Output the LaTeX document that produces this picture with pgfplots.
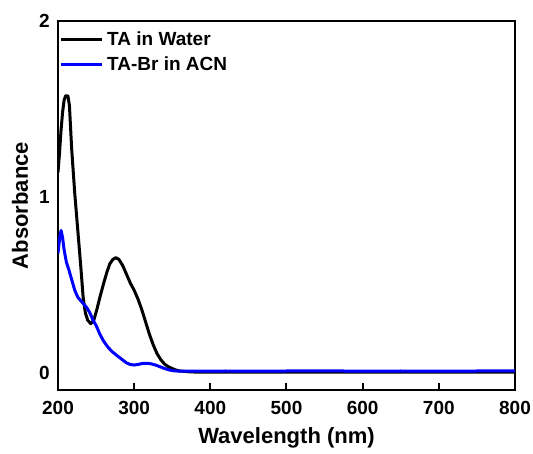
\documentclass[border=0pt]{standalone}
\usepackage{pgfplots}
\pgfplotsset{compat=1.18}
\usepackage{fontspec}
\setmainfont{Liberation Sans}
\definecolor{tabr}{RGB}{0,0,255}

\begin{document}
\begin{tikzpicture}
\begin{axis}[
    name=ax,
    scale only axis,
    width=457pt, height=369pt,
    xmin=200, xmax=800,
    ymin=-0.097, ymax=2,
    xtick={200,300,...,800},
    ytick={0,1,2},
    xtick pos=bottom,
    tick align=inside,
    major tick length=7pt,
    ytick style={draw=none},
    xtick style={line width=2pt, black},
    axis line style={line width=2.5pt},
    /pgf/number format/assume math mode=true,
    tick label style={font=\fontsize{19}{19}\selectfont\bfseries},
    xticklabel style={inner sep=0pt, anchor=north, yshift=-11pt},
    yticklabel style={inner sep=0pt, anchor=east, xshift=-8pt},
    xlabel={Wavelength (nm)},
    ylabel={Absorbance},
    label style={font=\fontsize{22}{22}\selectfont\bfseries},
    xlabel style={at={(axis description cs:0.5,-0.130)}, anchor=center},
    ylabel style={at={(axis description cs:-0.083,0.5)}, anchor=center},
    legend cell align=left,
    legend style={at={(axis description cs:0,1)}, anchor=north west,
        xshift=1pt, yshift=-10pt, draw=none, fill=none,
        font=\fontsize{19}{19}\selectfont\bfseries,
        inner sep=0pt, row sep=7pt,
        nodes={inner sep=1pt},
        /tikz/every odd column/.append style={column sep=3pt}},
    legend image code/.code={\draw[#1] (0pt,0pt) -- (41pt,0pt);},
]
\addplot[black, line width=3pt, line join=round] coordinates {
(200,1.14)(202,1.25)(204,1.38)(206,1.48)(208,1.55)(210,1.575)(213,1.575)
(215,1.52)(218,1.27)(222,1.02)(226,0.81)(230,0.60)(233,0.43)(236,0.34)
(239,0.30)(243,0.28)(247,0.30)(251,0.36)(255,0.43)(260,0.51)(264,0.57)
(268,0.62)(272,0.645)(276,0.655)(280,0.645)(285,0.61)(290,0.56)(295,0.51)
(300,0.47)(305,0.42)(310,0.36)(315,0.29)(320,0.22)(325,0.16)(330,0.11)
(335,0.075)(340,0.05)(345,0.035)(350,0.025)(355,0.016)(360,0.011)(370,0.007)
(380,0.005)(400,0.004)(450,0.005)(500,0.004)(550,0.004)(600,0.004)
(650,0.004)(700,0.004)(750,0.005)(800,0.005)
};
\addlegendentry{TA in Water}
\addplot[tabr, line width=3pt, line join=round] coordinates {
(200,0.68)(202,0.76)(204,0.81)(206,0.77)(208,0.70)(211,0.63)(214,0.59)
(218,0.53)(222,0.47)(226,0.43)(230,0.41)(234,0.39)(238,0.37)(242,0.34)
(246,0.30)(250,0.27)(255,0.22)(260,0.18)(265,0.15)(270,0.125)(277,0.10)
(283,0.08)(290,0.057)(295,0.048)(300,0.045)(305,0.048)(310,0.053)
(316,0.055)(322,0.052)(328,0.045)(334,0.035)(340,0.025)(346,0.017)
(352,0.012)(360,0.010)(380,0.010)(420,0.011)(460,0.010)(500,0.011)
(550,0.012)(600,0.010)(650,0.011)(700,0.010)(750,0.011)(800,0.012)
};
\addlegendentry{TA-Br in ACN}
\end{axis}
\pgfresetboundingbox
\path (ax.south west) ++(-58pt,-63pt) rectangle ++(533pt,453pt);
\end{tikzpicture}
\end{document}
